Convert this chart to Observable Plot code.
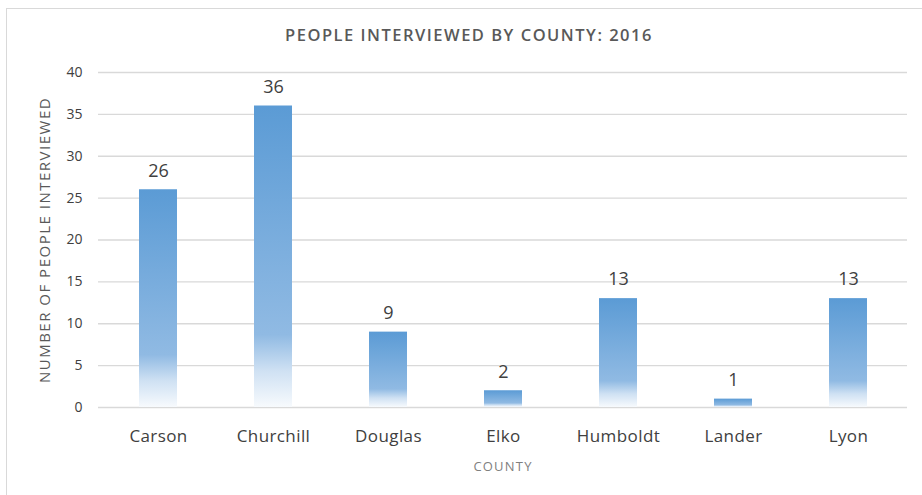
<!DOCTYPE html>
<html>
<head>
<meta charset="utf-8">
<script src="https://cdn.jsdelivr.net/npm/d3@7"></script>
<script src="https://cdn.jsdelivr.net/npm/@observablehq/plot@0.6"></script>
<style>
  html, body { margin: 0; padding: 0; background: #fff; }
  #wrap { position: relative; width: 922px; height: 495px; overflow: hidden; }
  #frame { position: absolute; left: 6px; top: 8px; width: 940px; height: 520px; border: 1px solid #d9d9d9; box-sizing: border-box; }
  #chart { position: absolute; left: 0; top: 0; }
  .ttl text { letter-spacing: 1.5px; }
  .ylab text { letter-spacing: 1.5px; }
  .xlab text { letter-spacing: 1.2px; }
  .xticks text { letter-spacing: 0.4px; }
</style>
</head>
<body>
<div id="wrap"><div id="frame"></div><div id="chart"></div></div>
<script>
const counties = ["Carson", "Churchill", "Douglas", "Elko", "Humboldt", "Lander", "Lyon"];
const interviewed = [26, 36, 9, 2, 13, 1, 13];
const yTicks = [0, 5, 10, 15, 20, 25, 30, 35, 40];
const titleText = "PEOPLE INTERVIEWED BY COUNTY: 2016";
const yLabel = "NUMBER OF PEOPLE INTERVIEWED";
const xLabel = "COUNTY";

const data = counties.map((c, i) => ({county: c, value: interviewed[i]}));
const font = "'Open Sans', 'Roboto', sans-serif";

const plot = Plot.plot({
  width: 922,
  height: 495,
  marginTop: 72,
  marginBottom: 88,
  marginLeft: 98,
  marginRight: 15,
  style: {fontFamily: font, fontSize: "15px", color: "#404040", background: "transparent"},
  x: {domain: counties, paddingInner: 0.67, paddingOuter: 0.335, label: null},
  y: {domain: [0, 40], label: null},
  marks: [
    Plot.gridY(yTicks, {stroke: "#d9d9d9", strokeOpacity: 1, strokeWidth: 1.3}),
    Plot.axisY(yTicks, {tickSize: 0, tickPadding: 16, fontSize: 14, fill: "#404040", label: null}),
    Plot.axisX({tickSize: 0, tickPadding: 22, fontSize: 17, fill: "#404040", label: null, className: "xticks"}),
    Plot.barY(data, {x: "county", y: "value", fill: "#5b9bd5", className: "gradbars"}),
    Plot.text(data, {x: "county", y: "value", text: d => String(d.value), dy: -19, fontSize: 18, fill: "#404040"}),
    Plot.text([titleText], {frameAnchor: "top", dx: -34, dy: -43, fontSize: 16.5, fontWeight: 600, fill: "#595959", className: "ttl"}),
    Plot.text([xLabel], {frameAnchor: "bottom", dy: 63, fontSize: 13, fill: "#7f7f7f", className: "xlab"}),
    Plot.text([yLabel], {frameAnchor: "left", textAnchor: "middle", dx: -53, rotate: -90, fontSize: 15, fill: "#595959", className: "ylab"})
  ]
});

const svg = d3.select(plot);
const defs = svg.insert("defs", ":first-child");
const grad = defs.append("linearGradient").attr("id", "barGrad")
  .attr("x1", 0).attr("y1", 0).attr("x2", 0).attr("y2", 1);
[[0, "#5b9bd5"], [0.76, "#90bae3"], [0.88, "#cfe1f3"], [1, "#f7fafd"]].forEach(([o, c]) =>
  grad.append("stop").attr("offset", o).attr("stop-color", c));
svg.selectAll("g.gradbars").attr("fill", "url(#barGrad)");
svg.selectAll("g.gradbars rect").attr("fill", "url(#barGrad)");

document.getElementById("chart").appendChild(plot);
</script>
</body>
</html>
